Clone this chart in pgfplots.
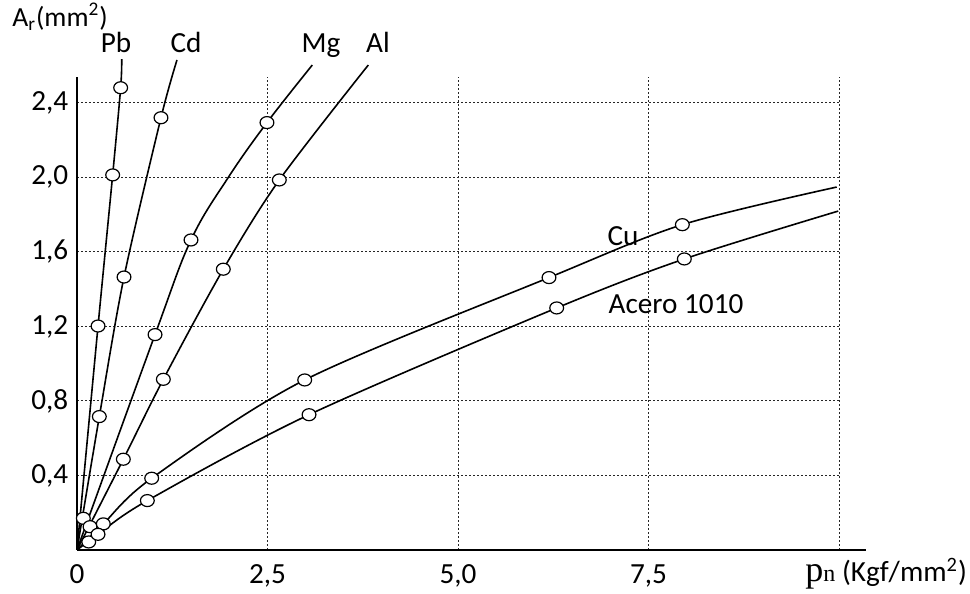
\documentclass[border=0pt]{standalone}
\usepackage{pgfplots}
\pgfplotsset{compat=1.18}
\usepackage{fontspec}
\setmainfont{Carlito}
\newfontfamily\serif{Liberation Serif}

\begin{document}
\fontsize{14.6}{17}\selectfont
\begin{tikzpicture}
\begin{axis}[
  x=38.1pt, y=93.15pt,
  xmin=0, xmax=10, ymin=0, ymax=2.539,
  axis x line=bottom, axis y line=left,
  axis line style={-, line width=1pt, black},
  x axis line style={shorten >=-13.7pt},
  xtick={0,2.5,5,7.5,10},
  xticklabels={0,{2,5},{5,0},{7,5},{}},
  ytick={0.4,0.8,1.2,1.6,2.0,2.4},
  yticklabels={{0,4},{0,8},{1,2},{1,6},{2,0},{2,4}},
  major tick length=0pt,
  grid=major,
  grid style={black!85, line width=0.5pt, dash pattern=on 1pt off 1pt},
  tick label style={font=\fontsize{14.6}{17}\selectfont, inner sep=0pt},
  xticklabel style={anchor=north, yshift=-7.2pt},
  yticklabel style={anchor=east, xshift=-4.2pt},
  clip=false,
  every axis plot/.append style={black, line width=0.8pt},
  pts/.style={only marks, mark=*, mark size=3pt,
    mark options={xscale=1.15, fill=white, draw=black, line width=0.6pt}},
]
% Pb
\addplot[smooth, mark=none] coordinates {(0,0) (0.276,1.202) (0.468,2.013) (0.573,2.481) (0.587,2.634)};
% Cd
\addplot[smooth, mark=none] coordinates {(0,0) (0.293,0.716) (0.617,1.465) (1.102,2.320) (1.312,2.630)};
% Mg
\addplot[smooth, tension=0.6, mark=none] coordinates {(0,0) (1.024,1.156) (1.496,1.664) (1.986,2.000) (2.493,2.294) (3.088,2.603)};
% Al
\addplot[smooth, mark=none] coordinates {(0,0) (0.608,0.487) (1.133,0.916) (1.920,1.507) (2.655,1.986) (3.823,2.603)};
% Cu
\addplot[smooth, mark=none] coordinates {(0,0) (0.345,0.140) (0.980,0.385) (2.988,0.9125) (6.194,1.462) (7.944,1.746) (9.97,1.948)};
% Acero 1010
\addplot[smooth, mark=none] coordinates {(0,0) (0.276,0.084) (0.923,0.265) (3.045,0.726) (6.295,1.299) (7.97,1.562) (9.99,1.819)};

% measured points
\addplot[pts] coordinates {(0.083,0.170) (0.276,1.202) (0.468,2.013) (0.573,2.481)};
\addplot[pts] coordinates {(0.293,0.716) (0.617,1.465) (1.102,2.320)};
\addplot[pts] coordinates {(0.171,0.125) (1.024,1.156) (1.496,1.664) (2.493,2.294)};
\addplot[pts] coordinates {(0.154,0.043) (0.608,0.487) (1.133,0.916) (1.920,1.507) (2.655,1.986)};
\addplot[pts] coordinates {(0.345,0.140) (0.980,0.385) (2.988,0.9125) (6.194,1.462) (7.944,1.746)};
\addplot[pts] coordinates {(0.276,0.084) (0.923,0.265) (3.045,0.726) (6.295,1.299) (7.97,1.562)};

\node[anchor=base] at (axis cs:0.512,2.668) {Pb};
\node[anchor=base] at (axis cs:1.430,2.668) {Cd};
\node[anchor=base] at (axis cs:3.202,2.668) {Mg};
\node[anchor=base] at (axis cs:3.950,2.668) {Al};
\node[anchor=base] at (axis cs:7.165,1.632) {Cu};
\node[anchor=base west, inner sep=0pt] at (axis cs:6.972,1.271) {Acero 1010};
\node[anchor=base west, inner sep=0pt] at (axis cs:-0.853,2.81) {\fontsize{13.8}{16}\selectfont A\textsubscript{r}(mm\textsuperscript{2})};
\node[anchor=base west, inner sep=0pt] at (axis cs:9.554,-0.170) {{\serif\fontsize{18}{20}\selectfont p}{\serif\fontsize{12}{13}\selectfont n} (Kgf/mm\textsuperscript{2})};

\path (axis cs:-1.0105,-0.236) rectangle (axis cs:11.719,2.952);
\end{axis}
\end{tikzpicture}
\end{document}
